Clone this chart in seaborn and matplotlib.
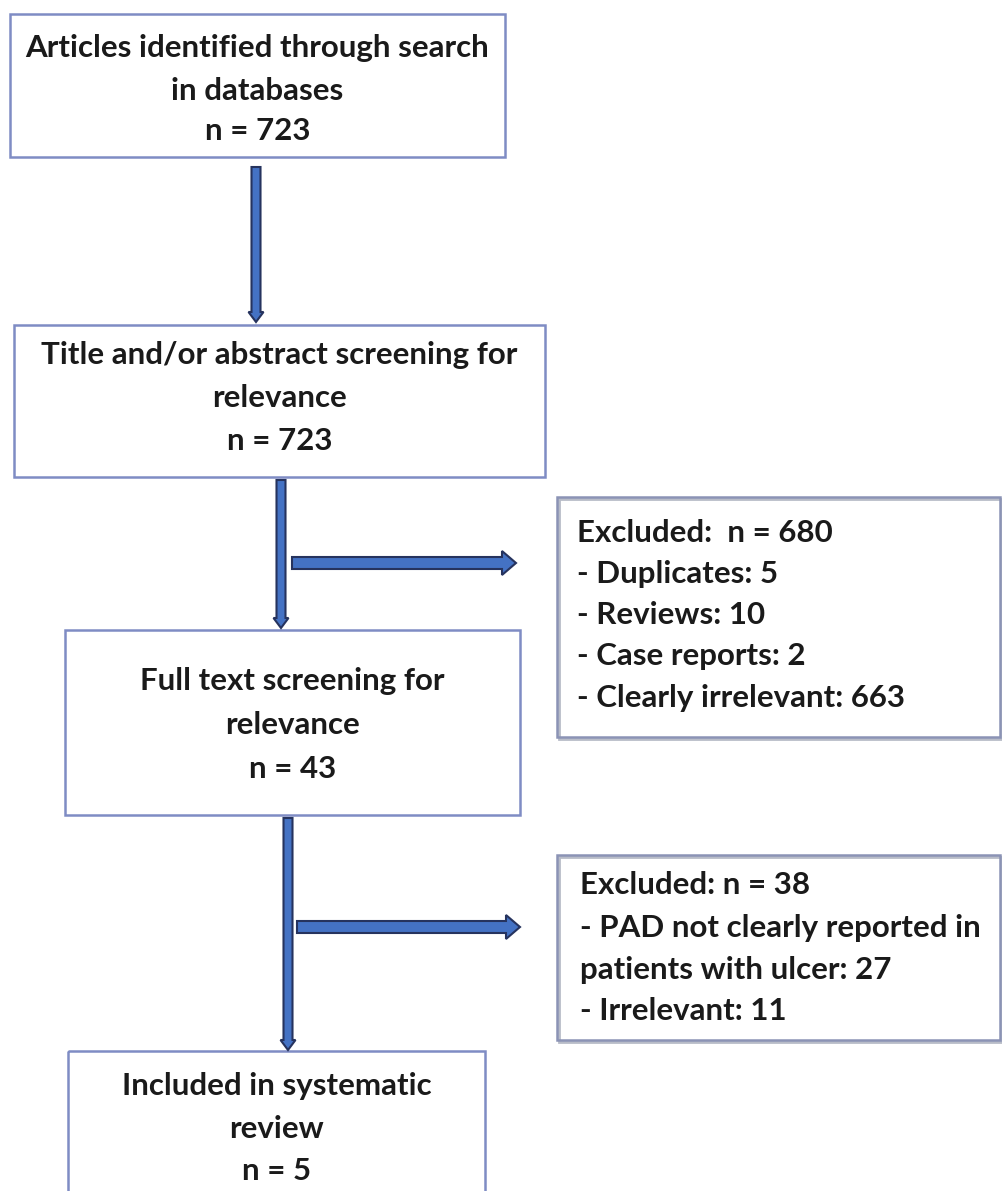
import numpy as np
import seaborn as sns
import matplotlib
matplotlib.use('Agg')
from matplotlib import pyplot as plt
from matplotlib.patches import Rectangle, FancyArrow

# Datos del diagrama de flujo.
etapas = ['Articles identified through search\nin databases',
          'Title and/or abstract screening for\nrelevance',
          'Full text screening for\nrelevance',
          'Included in systematic\nreview']
n_etapas = [723, 723, 43, 5]

excl_1_total = 680
excl_1_motivos = ['Duplicates', 'Reviews', 'Case reports', 'Clearly irrelevant']
excl_1_n = [5, 10, 2, 663]

excl_2_total = 38
excl_2_motivos = ['PAD not clearly reported in\npatients with ulcer', 'Irrelevant']
excl_2_n = [27, 11]

sns.set_theme(style='white')
plt.rcParams['font.family'] = ['Lato', 'DejaVu Sans']

fig = plt.figure(figsize=(10.02, 11.91), dpi=100)
ax = fig.add_axes([0, 0, 1, 1])
ax.set_xlim(0, 1002)
ax.set_ylim(1191, 0)
ax.axis('off')

borde = '#7f8cc4'
azul = '#4472c4'
oscuro = '#26335e'
fs = 22.5

# Cajas principales (x0, y0, x1, y1) y posiciones de las lineas.
cajas = [(10, 14, 505, 157), (14, 325, 545, 477), (65, 630, 520, 815), (68, 1051, 485, 1200)]
lineas_y = [(48, 91, 131), (355, 398, 441), (681, 725, 769), (1086, 1129, 1171)]

for (x0, y0, x1, y1), texto, n, ys in zip(cajas, etapas, n_etapas, lineas_y):
    ax.add_patch(Rectangle((x0, y0), x1 - x0, y1 - y0, fill=False, ec=borde, lw=1.8))
    partes = texto.split('\n') + ['n = %d' % n]
    cx = (x0 + x1) / 2
    for t, y in zip(partes, ys):
        ax.text(cx, y, t, ha='center', va='center', fontsize=fs, fontweight='bold', color='#1a1a1a')

# Cajas de excluidos.
ex_cajas = [(557, 497, 1000, 737), (557, 855, 1000, 1040)]
for x0, y0, x1, y1 in ex_cajas:
    ax.add_patch(Rectangle((x0 + 2, y0 + 2), x1 - x0, y1 - y0, fill=False, ec='#b8bcc8', lw=2))
    ax.add_patch(Rectangle((x0, y0), x1 - x0, y1 - y0, fill=False, ec='#8b93b5', lw=1.8))

lineas_1 = ['Excluded:  n = %d' % excl_1_total] + \
    ['- %s: %d' % (m, v) for m, v in zip(excl_1_motivos, excl_1_n)]
for t, y in zip(lineas_1, [533, 574, 615, 656, 698]):
    ax.text(577, y, t, ha='left', va='center', fontsize=fs, fontweight='bold', color='#1a1a1a')

lineas_2 = ['Excluded: n = %d' % excl_2_total]
for m, v in zip(excl_2_motivos, excl_2_n):
    lineas_2 += ('- %s: %d' % (m, v)).split('\n')
for t, y in zip(lineas_2, [885, 928, 970, 1011]):
    ax.text(580, y, t, ha='left', va='center', fontsize=fs, fontweight='bold', color='#1a1a1a')

# Flechas verticales.
for x, y0, y1 in [(256, 167, 322), (281, 480, 628), (288, 818, 1050)]:
    ax.add_patch(FancyArrow(x, y0, 0, y1 - y0, width=9, head_width=15, head_length=10,
                            length_includes_head=True, fc=azul, ec=oscuro, lw=1.5))

# Flechas horizontales.
for x0, x1, y in [(292, 516, 563), (297, 520, 927)]:
    ax.add_patch(FancyArrow(x0, y, x1 - x0, 0, width=12, head_width=24, head_length=14,
                            length_includes_head=True, fc=azul, ec=oscuro, lw=1.5))

fig.savefig('out.png', dpi=100, facecolor='white')
